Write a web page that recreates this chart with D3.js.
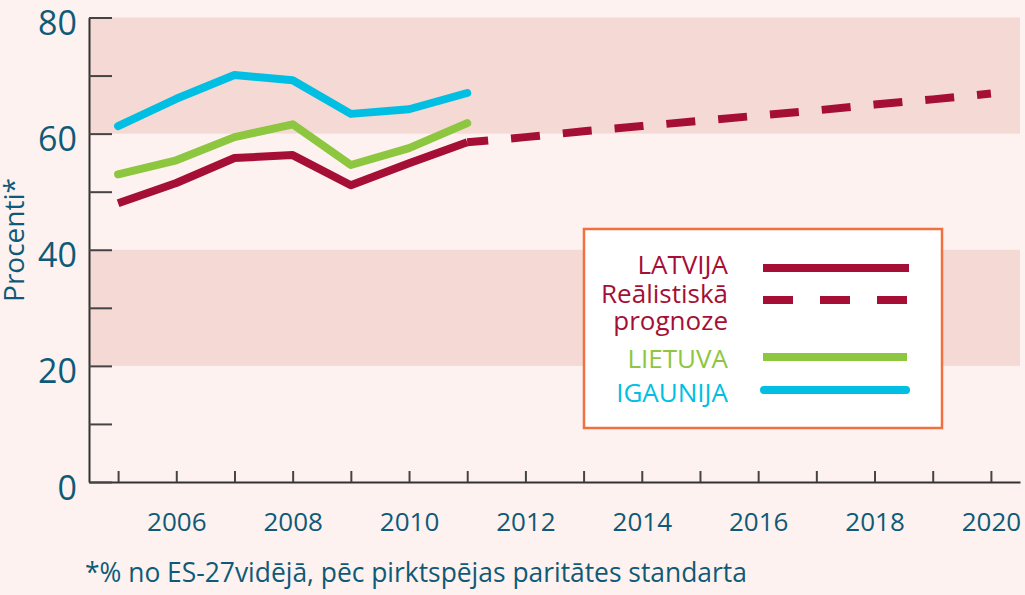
<!DOCTYPE html>
<html>
<head>
<meta charset="utf-8">
<script src="https://cdn.jsdelivr.net/npm/d3@7"></script>
<style>
  body { margin: 0; background: #FDF2EF; }
  svg { display: block; }
  svg text { font-family: "Open Sans", sans-serif; }
</style>
</head>
<body>
<div id="chart"></div>
<script>
// data
const years = [2005, 2006, 2007, 2008, 2009, 2010, 2011];
const latvija = [48.0, 51.5, 55.8, 56.3, 51.1, 54.9, 58.5];
const lietuva = [53.0, 55.4, 59.4, 61.6, 54.6, 57.5, 61.8];
const igaunija = [61.3, 66.0, 70.1, 69.2, 63.4, 64.2, 67.0];
const forecastYears = [2011, 2012, 2013, 2014, 2015, 2016, 2017, 2018, 2019, 2020];
const forecast = [58.5, 59.4, 60.4, 61.3, 62.2, 63.1, 64.0, 65.0, 65.9, 66.9];
const allYears = d3.range(2005, 2021);
const yTicks = [0, 10, 20, 30, 40, 50, 60, 70, 80];
const bands = [[20, 40], [60, 80]];

const textColor = "#0E5A78";
const cLv = "#A50F35", cLt = "#8DC63F", cEe = "#00BFE2";

let width = 1025, height = 595;

let svg = d3.select("#chart")
    .append("svg")
    .attr("width", width)
    .attr("height", height);

svg.append("rect").attr("width", width).attr("height", height).attr("fill", "#FDF2EF");

let x = d3.scaleLinear().domain([2004.5, 2020.5]).range([89, 1020]);
let y = d3.scaleLinear().domain([0, 80]).range([482, 17.5]);

// pink bands
svg.selectAll(".band")
    .data(bands)
    .enter().append("rect")
    .attr("class", "band")
    .attr("x", x(2004.5))
    .attr("width", x(2020.5) - x(2004.5))
    .attr("y", d => y(d[1]))
    .attr("height", d => y(d[0]) - y(d[1]))
    .attr("fill", "#F5D9D5");

// axes
let xAxis = svg.append("g")
    .attr("transform", "translate(0," + y(0) + ")")
    .call(d3.axisBottom(x)
        .tickValues(allYears)
        .tickSizeInner(-11)
        .tickSizeOuter(0)
        .tickPadding(31)
        .tickFormat(d => d % 2 === 0 ? d : ""));

let yAxis = svg.append("g")
    .attr("transform", "translate(" + x(2004.5) + ",0)")
    .call(d3.axisLeft(y)
        .tickValues(yTicks)
        .tickSizeInner(-23)
        .tickSizeOuter(0)
        .tickPadding(12)
        .tickFormat(d => d % 20 === 0 ? d : ""));

xAxis.attr("font-family", null);
yAxis.attr("font-family", null);
svg.selectAll(".domain").attr("stroke", "#333").attr("stroke-width", 2);
svg.selectAll(".tick line").attr("stroke", "#444").attr("stroke-width", 2);
xAxis.selectAll("text").attr("fill", textColor).style("font-size", "26px");
yAxis.selectAll("text").attr("fill", textColor).style("font-size", "34px").attr("dy", "0.5em");

// y label
svg.append("text")
    .attr("transform", "translate(24,240) rotate(-90)")
    .attr("text-anchor", "middle")
    .attr("fill", textColor)
    .style("font-size", "28px")
    .text("Procenti*");

// footnote
svg.append("text")
    .attr("x", 85)
    .attr("y", 582)
    .attr("fill", textColor)
    .style("font-size", "26.4px")
    .text("*% no ES-27vidējā, pēc pirktspējas paritātes standarta");

// lines
let line = d3.line()
    .x(d => x(d[0]))
    .y(d => y(d[1]));

svg.append("path")
    .datum(d3.zip(forecastYears, forecast))
    .attr("d", line)
    .attr("fill", "none")
    .attr("stroke", cLv)
    .attr("stroke-width", 8)
    .attr("stroke-dasharray", "29,23")
    .attr("stroke-dashoffset", 8);

let series = [
    { values: latvija, color: cLv, cap: "butt" },
    { values: lietuva, color: cLt, cap: "round" },
    { values: igaunija, color: cEe, cap: "round" }
];

svg.selectAll(".series")
    .data(series)
    .enter().append("path")
    .attr("class", "series")
    .attr("d", d => line(d3.zip(years, d.values)))
    .attr("fill", "none")
    .attr("stroke", d => d.color)
    .attr("stroke-width", 8)
    .attr("stroke-linecap", d => d.cap)
    .attr("stroke-linejoin", "round");

// legend
let legend = svg.append("g");
legend.append("rect")
    .attr("x", 584).attr("y", 229)
    .attr("width", 358).attr("height", 199)
    .attr("fill", "#FFFFFF")
    .attr("stroke", "#F07040")
    .attr("stroke-width", 2.5);

let legendItems = [
    { label: "LATVIJA", color: cLv, ty: 274, ly: 268, dash: null, cap: "butt", x1: 763, x2: 909 },
    { label: "Reālistiskā", color: cLv, ty: 303, ly: 300, dash: "30,27", cap: "butt", x1: 763, x2: 909 },
    { label: "prognoze", color: cLv, ty: 330, ly: null },
    { label: "LIETUVA", color: cLt, ty: 368, ly: 357, dash: null, cap: "butt", x1: 763, x2: 907 },
    { label: "IGAUNIJA", color: cEe, ty: 402, ly: 390, dash: null, cap: "round", x1: 764, x2: 906 }
];

legendItems.forEach(function (d) {
    legend.append("text")
        .attr("x", 728)
        .attr("y", d.ty)
        .attr("text-anchor", "end")
        .attr("fill", d.color)
        .style("font-size", "26px")
        .text(d.label);
    if (d.ly === null) return;
    legend.append("line")
        .attr("x1", d.x1).attr("x2", d.x2)
        .attr("y1", d.ly).attr("y2", d.ly)
        .attr("stroke", d.color)
        .attr("stroke-width", 8)
        .attr("stroke-linecap", d.cap)
        .attr("stroke-dasharray", d.dash);
});
</script>
</body>
</html>
